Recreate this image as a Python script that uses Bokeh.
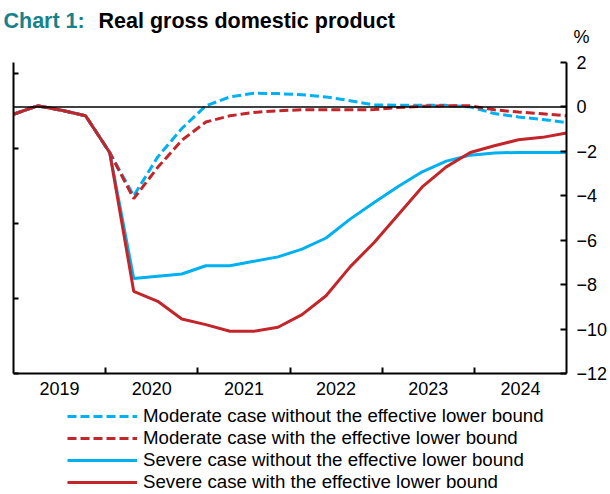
from bokeh.plotting import figure
from bokeh.layouts import column
from bokeh.models import Range1d, LinearAxis, FixedTicker, Span, Label, Legend, LegendItem
from bokeh.embed import file_html
from bokeh.resources import INLINE

# ---- data ----
quarters = ["2019Q1", "2019Q2", "2019Q3", "2019Q4", "2020Q1", "2020Q2", "2020Q3", "2020Q4",
            "2021Q1", "2021Q2", "2021Q3", "2021Q4", "2022Q1", "2022Q2", "2022Q3", "2022Q4",
            "2023Q1", "2023Q2", "2023Q3", "2023Q4", "2024Q1", "2024Q2", "2024Q3", "2024Q4"]
moderate_no_elb = [-0.33, 0.05, -0.15, -0.40, -2.05, -4.00, -2.25, -0.97, 0.05, 0.45, 0.62, 0.60,
                   0.55, 0.45, 0.28, 0.09, 0.08, 0.08, 0.07, 0.00, -0.30, -0.45, -0.57, -0.70]
moderate_elb = [-0.33, 0.05, -0.15, -0.40, -2.05, -4.13, -2.72, -1.50, -0.68, -0.40, -0.25, -0.17,
                -0.13, -0.13, -0.13, -0.12, -0.03, 0.03, 0.05, 0.05, -0.13, -0.23, -0.31, -0.40]
severe_no_elb = [-0.33, 0.05, -0.15, -0.40, -2.05, -7.72, -7.62, -7.52, -7.15, -7.15, -6.95, -6.75,
                 -6.40, -5.90, -5.05, -4.30, -3.58, -2.92, -2.44, -2.17, -2.07, -2.05, -2.05, -2.05]
severe_elb = [-0.33, 0.05, -0.15, -0.40, -2.05, -8.30, -8.75, -9.55, -9.80, -10.10, -10.10, -9.92,
              -9.35, -8.50, -7.20, -6.10, -4.85, -3.60, -2.70, -2.05, -1.75, -1.48, -1.37, -1.17]
year_labels = ["2019", "2020", "2021", "2022", "2023", "2024"]
y_ticks = [-12, -10, -8, -6, -4, -2, 0, 2]
series_names = ["Moderate case without the effective lower bound",
                "Moderate case with the effective lower bound",
                "Severe case without the effective lower bound",
                "Severe case with the effective lower bound"]

BLUE = "#00B0F0"
RED = "#C3262A"
TEAL = "#17818C"
FONT = "Liberation Sans"
W = 610

x = list(range(len(quarters)))
years_num = [int(y) for y in year_labels]
series = [moderate_no_elb, moderate_elb, severe_no_elb, severe_elb]
styles = [dict(line_color=BLUE, line_width=3, line_dash="9 4"),
          dict(line_color=RED, line_width=3, line_dash="9 4"),
          dict(line_color=BLUE, line_width=3),
          dict(line_color=RED, line_width=3)]


def bare(height):
    f = figure(width=W, height=height, x_axis_location=None, y_axis_location=None,
               output_backend="svg", toolbar_location=None, frame_align=False,
               min_border_left=0, min_border_right=0, min_border_top=0, min_border_bottom=0)
    f.grid.visible = False
    f.outline_line_color = None
    return f


# ---- title strip ----
t = bare(50)
t.x_range = Range1d(0, 1)
t.y_range = Range1d(0, 1)
t.add_layout(Label(x=3, y=30, x_units="screen", y_units="screen", text="Chart 1:",
                   text_font=FONT, text_font_style="bold", text_font_size="21.5px",
                   text_color=TEAL, text_baseline="alphabetic"))
t.add_layout(Label(x=98, y=30, x_units="screen", y_units="screen", text="Real gross domestic product",
                   text_font=FONT, text_font_style="bold", text_font_size="21.5px",
                   text_color="black", text_baseline="alphabetic"))
t.add_layout(Label(x=581, y=14, x_units="screen", y_units="screen", text="%",
                   text_font=FONT, text_font_size="18px", text_color="black",
                   text_align="center", text_baseline="middle"))

# ---- main chart ----
p = figure(width=W, height=353, x_range=Range1d(0, len(quarters) - 1), y_range=Range1d(-12, 2),
           x_axis_location=None, y_axis_location="right",
           output_backend="svg", toolbar_location=None, frame_align=False,
           min_border_left=13, min_border_right=44, min_border_top=12, min_border_bottom=30)
p.grid.visible = False
p.outline_line_color = None

p.extra_x_ranges = {"years": Range1d(years_num[0], years_num[-1] + 1)}
p.extra_y_ranges = {"left": Range1d(0, 311 / 75)}

ya = p.yaxis[0]
ya.ticker = FixedTicker(ticks=y_ticks, minor_ticks=[])
ya.major_tick_in = 6
ya.major_tick_out = 0
ya.major_tick_line_width = 2
ya.axis_line_width = 2
ya.major_label_standoff = 10
ya.major_label_text_font = FONT
ya.major_label_text_font_size = "18px"
ya.major_label_text_color = "black"

mids = [y + 0.5 for y in years_num]
xa = LinearAxis(x_range_name="years",
                ticker=FixedTicker(ticks=mids, minor_ticks=years_num[1:]),
                major_label_overrides={m: lab for m, lab in zip(mids, year_labels)})
xa.major_tick_in = 0
xa.major_tick_out = 0
xa.major_tick_line_color = None
xa.minor_tick_in = 6
xa.minor_tick_out = 0
xa.minor_tick_line_width = 2
xa.minor_tick_line_color = "black"
xa.axis_line_width = 2
xa.major_label_standoff = 8
xa.major_label_text_font = FONT
xa.major_label_text_font_size = "18px"
xa.major_label_text_color = "black"
p.add_layout(xa, "below")

la = LinearAxis(y_range_name="left", ticker=FixedTicker(ticks=[0, 1, 2, 3, 4], minor_ticks=[]),
                major_label_overrides={0: "", 1: "", 2: "", 3: "", 4: ""})
la.major_label_text_font_size = "0px"
la.major_label_standoff = 0
la.major_tick_in = 5
la.major_tick_out = 0
la.major_tick_line_width = 2
la.axis_line_width = 2
p.add_layout(la, "left")

p.add_layout(Span(location=0, dimension="width", line_color="black", line_width=1.5))

for s, st in zip(series, styles):
    p.line(x, s, **st)

# ---- legend strip (same series, ranges kept off-screen so only the legend shows) ----
lg = bare(91)
lg.x_range = Range1d(1000, 1001)
lg.y_range = Range1d(1000, 1001)
rends = [lg.line(x, s, **st) for s, st in zip(series, styles)]
legend = Legend(items=[LegendItem(label=n, renderers=[r]) for n, r in zip(series_names, rends)],
                location=(67, 1), glyph_width=70, glyph_height=22, label_height=22,
                spacing=0, padding=0, margin=0, label_standoff=6,
                border_line_color=None, background_fill_alpha=0,
                label_text_font=FONT, label_text_font_size="18.7px", label_text_color="black")
lg.add_layout(legend)

layout = column(t, p, lg, spacing=0)
open("out.html", "w").write(file_html(layout, INLINE))
